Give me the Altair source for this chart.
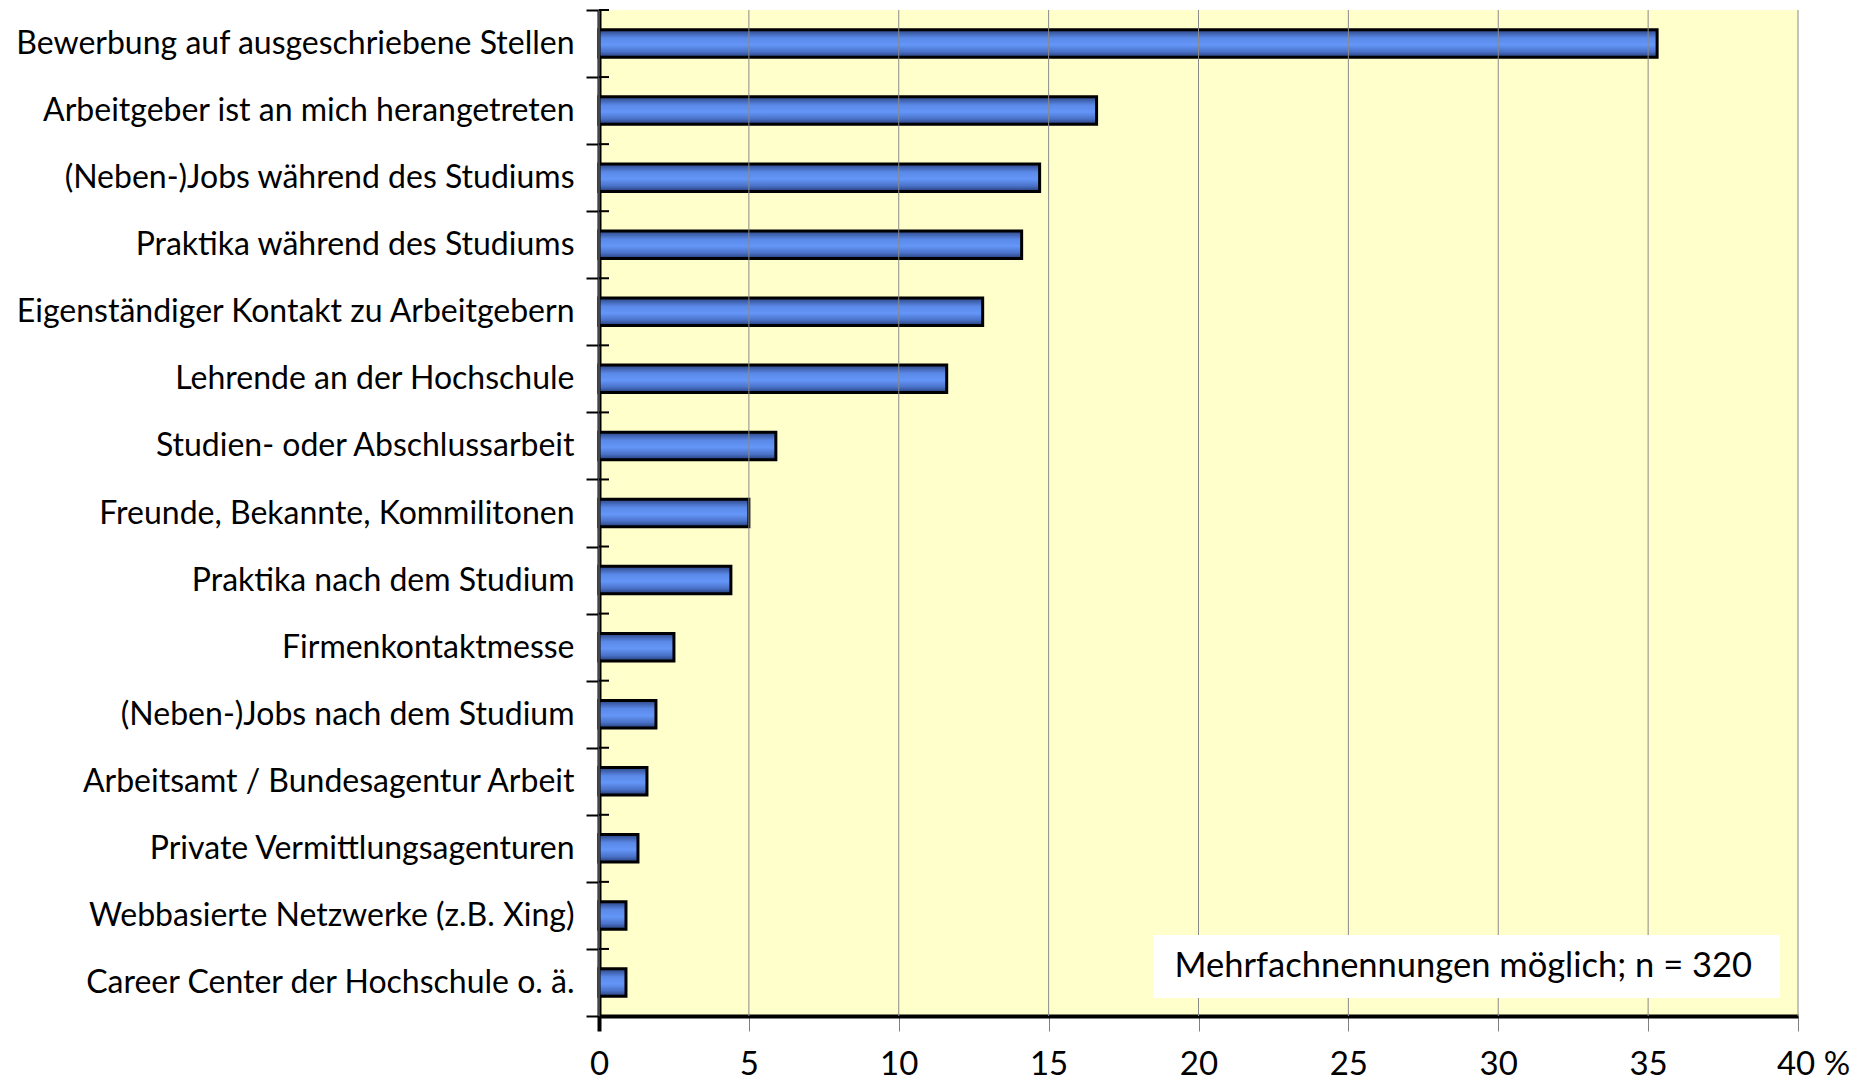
import altair as alt
import pandas as pd

categories = [
    "Bewerbung auf ausgeschriebene Stellen",
    "Arbeitgeber ist an mich herangetreten",
    "(Neben-)Jobs während des Studiums",
    "Praktika während des Studiums",
    "Eigenständiger Kontakt zu Arbeitgebern",
    "Lehrende an der Hochschule",
    "Studien- oder Abschlussarbeit",
    "Freunde, Bekannte, Kommilitonen",
    "Praktika nach dem Studium",
    "Firmenkontaktmesse",
    "(Neben-)Jobs nach dem Studium",
    "Arbeitsamt / Bundesagentur Arbeit",
    "Private Vermittlungsagenturen",
    "Webbasierte Netzwerke (z.B. Xing)",
    "Career Center der Hochschule o. ä.",
]
values = [35.3, 16.6, 14.7, 14.1, 12.8, 11.6, 5.9, 5.0, 4.4, 2.5, 1.9, 1.6, 1.3, 0.9, 0.9]
x_ticks = [0, 5, 10, 15, 20, 25, 30, 35, 40]
note_text = ["Mehrfachnennungen möglich; n = 320"]
note_x = [18.5]
note_x2 = [39.4]
note_text_x = [19.2]

FONT = "Lato"

df = pd.DataFrame({"Kategorie": categories, "Anteil": values})
grid_df = pd.DataFrame({"v": x_ticks})
note_df = pd.DataFrame({"x": note_x, "x2": note_x2, "tx": note_text_x, "t": note_text})

yscale = alt.Scale(domain=categories, paddingInner=0, paddingOuter=0)
xscale = alt.Scale(domain=[0, 40], nice=False, zero=True)

gradient = alt.LinearGradient(
    gradient="linear", x1=0, y1=0, x2=0, y2=1,
    stops=[
        alt.GradientStop(color="#2c4584", offset=0),
        alt.GradientStop(color="#5a89e8", offset=0.3),
        alt.GradientStop(color="#6496f8", offset=0.55),
        alt.GradientStop(color="#4a72c8", offset=0.8),
        alt.GradientStop(color="#263c76", offset=1),
    ],
)

x_axis = alt.Axis(
    values=x_ticks, grid=False, title=None,
    domainColor="black", domainWidth=4,
    tickSize=15,
    tickColor={"condition": {"test": "datum.value == 0", "value": "black"}, "value": "#808080"},
    tickWidth={"condition": {"test": "datum.value == 0", "value": 4}, "value": 1},
    labelFont=FONT, labelFontSize=33, labelColor="black", labelPadding=17,
    labelExpr="datum.value == 40 ? '40 %' : datum.label",
    labelOffset={"condition": {"test": "datum.value == 40", "value": 15}, "value": 0},
    labelFlush=False, labelOverlap=False,
)

y_axis = alt.Axis(
    title=None, tickBand="extent", tickSize=13, tickWidth=2, tickColor="black",
    domainColor="black", domainWidth=4,
    labelFont=FONT, labelFontSize=32, labelColor="black", labelPadding=12,
    labelLimit=0,
)

bars = alt.Chart(df).mark_bar(
    fill=gradient, stroke="black", strokeWidth=3,
    height=alt.RelativeBandSize(band=0.41),
).encode(
    x=alt.X("Anteil:Q", scale=xscale, axis=x_axis),
    y=alt.Y("Kategorie:N", scale=yscale, sort=categories, axis=y_axis),
)

grid = alt.Chart(grid_df).mark_rule(color="#8a8a8a", strokeWidth=1).encode(
    x=alt.X("v:Q", scale=xscale),
)

inner_ticks = alt.Chart(df).mark_rule(color="black", strokeWidth=2).encode(
    y=alt.Y("Kategorie:N", scale=yscale, sort=categories, bandPosition=0),
    x=alt.value(0), x2=alt.value(10),
)

note_box = alt.Chart(note_df).mark_rect(fill="white", stroke=None).encode(
    x=alt.X("x:Q", scale=xscale), x2="x2:Q",
    y=alt.value(925), y2=alt.value(988),
)

note = alt.Chart(note_df).mark_text(
    font=FONT, fontSize=34.5, color="black", align="left", baseline="middle",
).encode(
    x=alt.X("tx:Q", scale=xscale), y=alt.value(957), text="t:N",
)

chart = alt.layer(bars, grid, inner_ticks, note_box, note).properties(
    width=1199, height=1006,
    autosize=alt.AutoSizeParams(type="none"),
    padding={"left": 591, "top": 2, "right": 60, "bottom": 64},
).configure_view(fill="#FFFFCC", strokeWidth=0)

chart.save("out.html", embed_options={"renderer": "svg", "actions": False})
